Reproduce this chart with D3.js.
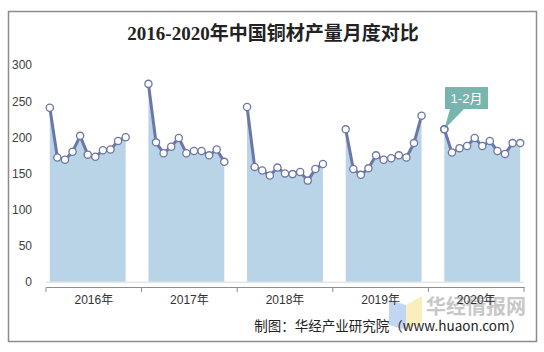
<!DOCTYPE html>
<html><head><meta charset="utf-8">
<script src="https://cdn.jsdelivr.net/npm/d3@7"></script>
<style>body{margin:0;background:#fff}svg{display:block}</style>
</head><body><svg id="c" width="544" height="352"></svg>
<script>
const years = ["2016年","2017年","2018年","2019年","2020年"];
const months = ["1-2月","3月","4月","5月","6月","7月","8月","9月","10月","11月","12月"];
const v2016 = [241,172,169,180,202,176,173,182,183,195,200];
const v2017 = [274,193,178,187,199,178,181,181,175,183,166];
const v2018 = [242,159,154,147,158,150,149,152,140,156,163];
const v2019 = [211,156,148,157,175,169,171,175,172,192,230];
const v2020 = [211,179,185,188,199,188,195,181,177,192,192];
const yTicks = [0,50,100,150,200,250,300];
const title = "2016-2020年中国铜材产量月度对比";
const callout = "1-2月";
const source = "制图：华经产业研究院（www.huaon.com）";
const watermark = "华经情报网";

const series = [v2016,v2017,v2018,v2019,v2020];
const slotsPerYear = months.length + 2;
const nSlots = slotsPerYear*(years.length-1) + months.length;

const svg = d3.select("#c");
const L = 46, R = 524, T = 65.1, B = 281.7;

svg.append("rect").attr("x",8.5).attr("y",11.5).attr("width",528).attr("height",330)
  .attr("fill","#fff").attr("stroke","#8c8c8c").attr("stroke-width",1.5);

svg.append("text").attr("x",273).attr("y",40).attr("text-anchor","middle")
  .attr("font-family","'Liberation Serif','DejaVu Serif','Noto Sans CJK SC',serif")
  .attr("font-size",19).attr("font-weight","bold").attr("fill","#222").text(title);

const x = d3.scalePoint().domain(d3.range(nSlots)).range([L,R]).padding(0.5);
const y = d3.scaleLinear().domain([0,300]).range([B,T]);
const xYear = d3.scaleBand().domain(years).range([L,R]);

// watermark
const wm = svg.append("g").attr("opacity",0.55);
wm.append("path").attr("d",`M389,300 L406,305 L406,330 L389,325 Z`).attr("fill","#8fb6ee");
wm.append("path").attr("d",`M406,305 L422,296 L422,322 L406,330 Z`).attr("fill","#f7e08a");
wm.append("text").attr("x",476).attr("y",314).attr("text-anchor","middle")
  .attr("font-family","'Noto Sans CJK SC',sans-serif").attr("font-size",20).attr("font-weight","bold")
  .attr("fill","#9a9a9a").text(watermark);

// y axis
const ya = svg.append("g").attr("transform",`translate(${L},0)`)
  .call(d3.axisLeft(y).tickValues(yTicks).tickSize(0).tickPadding(14));
ya.select(".domain").remove();
ya.selectAll("text").attr("font-family","Arial,'Liberation Sans',sans-serif").attr("font-size",12).attr("fill","#404040");

// areas & lines
const area = d3.area().x(d=>x(d.i)).y0(y(0)).y1(d=>y(d.v));
const line = d3.line().x(d=>x(d.i)).y(d=>y(d.v));
series.forEach((vals,yi)=>{
  const pts = vals.map((v,mi)=>({i:yi*slotsPerYear+mi, v}));
  svg.append("path").datum(pts).attr("d",area).attr("fill","#b9d4e6");
});
svg.append("line").attr("x1",L).attr("x2",R).attr("y1",B+0.5).attr("y2",B+0.5)
  .attr("stroke","#d9d9d9").attr("stroke-width",1);
series.forEach((vals,yi)=>{
  const pts = vals.map((v,mi)=>({i:yi*slotsPerYear+mi, v}));
  svg.append("path").datum(pts).attr("d",line).attr("fill","none")
    .attr("stroke","#6c77a6").attr("stroke-width",3).attr("stroke-linejoin","round");
  svg.append("g").selectAll("circle").data(pts).join("circle")
    .attr("cx",d=>x(d.i)).attr("cy",d=>y(d.v)).attr("r",3.6)
    .attr("fill","#fff").attr("stroke","#6c77a6").attr("stroke-width",1.3);
});

// category axis
const xa = svg.append("g").attr("transform",`translate(0,287)`)
  .call(d3.axisBottom(xYear).tickSize(0).tickPadding(8));
xa.select(".domain").attr("stroke","#8c8c8c");
xa.selectAll("text").attr("font-family","Arial,'Liberation Sans','Noto Sans CJK SC',sans-serif")
  .attr("font-size",12).attr("fill","#333");
const bounds = years.map(d=>xYear(d)).concat([R]);
xa.selectAll(".btick").data(bounds).join("line").attr("class","btick")
  .attr("x1",d=>d).attr("x2",d=>d).attr("y1",0).attr("y2",5).attr("stroke","#8c8c8c");

// callout
const px = x(4*slotsPerYear), py = y(v2020[0]);
const bx = 445, by = 87, bw = 43, bh = 22;
svg.append("path").attr("d",`M${px},${py} L${bx+5},${by+bh} L${bx+19},${by+bh} Z`).attr("fill","#78b5af");
svg.append("rect").attr("x",bx).attr("y",by).attr("width",bw).attr("height",bh).attr("fill","#78b5af");
svg.append("text").attr("x",bx+bw/2).attr("y",by+bh/2+4.5).attr("text-anchor","middle")
  .attr("font-family","Arial,'Liberation Sans','Noto Sans CJK SC',sans-serif").attr("font-size",13)
  .attr("fill","#fff").text(callout);
svg.append("circle").attr("cx",px).attr("cy",py).attr("r",3.6).attr("fill","none")
  .attr("stroke","#6c77a6").attr("stroke-width",1.3);

// source
svg.append("text").attr("x",523).attr("y",331).attr("text-anchor","end")
  .attr("font-family","'Noto Sans CJK SC',Arial,sans-serif").attr("font-size",13.5)
  .attr("fill","#222").text(source);
</script></body></html>
